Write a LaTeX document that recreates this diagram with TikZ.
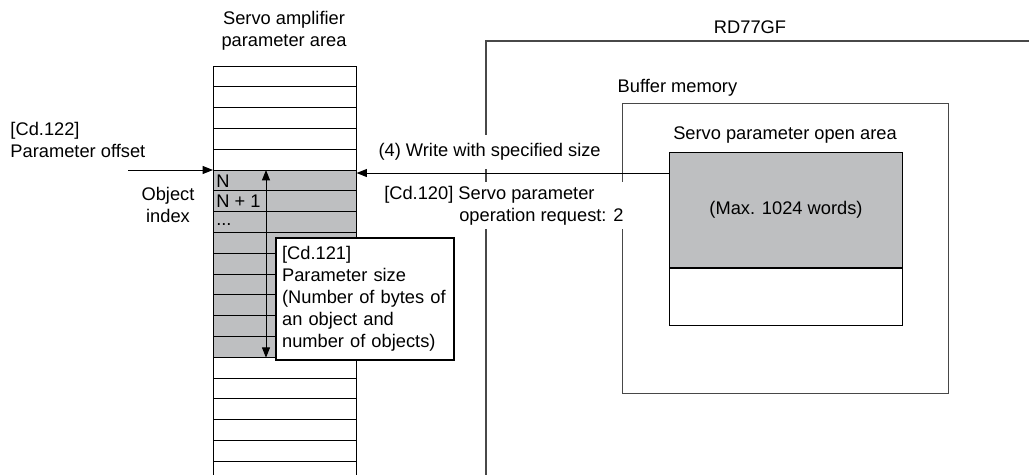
\documentclass[tikz,border=0pt]{standalone}
\usepackage{fontspec}
\setmainfont{Liberation Sans}
\usetikzlibrary{arrows.meta,positioning}
\definecolor{cellgray}{RGB}{190,191,193}
\definecolor{linegray}{RGB}{72,72,72}

\begin{document}
\begin{tikzpicture}[font=\fontsize{13pt}{15.6pt}\selectfont,
    t/.style={inner sep=1pt,align=center},
    n/.style={inner sep=0pt,anchor=west},
    a/.style={-{Triangle[length=.26cm,width=.2cm]},line width=.7pt},
    d/.style={{Triangle[length=.26cm,width=.2cm]}-{Triangle[length=.26cm,width=.2cm]},
      line width=.7pt},
    b/.style={draw=linegray,line width=.9pt},
    c/.style={line width=.7pt}]
  \useasboundingbox (0,0) rectangle (25.725,-11.85);
  % RD77GF and its buffer memory
  \draw[b] (26,-1.025) -- (12.15,-1.025) -- (12.15,-12.2);
  \node[t] (rd) at (18.75,-0.675) {RD77GF};
  \node[b,anchor=north west,inner sep=0,minimum width=8.15cm,
    minimum height=7.25cm] (buf) at (15.55,-2.575) {};
  \node[t,anchor=south west] (buflbl) at (15.4,-2.45) {Buffer memory};
  \node[draw,c,fill=cellgray,anchor=north west,inner sep=0,
    minimum width=5.825cm,minimum height=2.875cm] (open) at (16.725,-3.8)
    {(Max. 1024 words)};
  \node[draw,c,anchor=north,inner sep=0,minimum width=5.825cm,
    minimum height=1.425cm] (rest) at (open.south) {};
  \node[t] (openlbl) at (19.625,-3.375) {Servo parameter open area};
  % servo amplifier parameter area
  \node[t] (amp) at (7.1,-0.775) {Servo amplifier\\parameter area};
  \node[fill=cellgray,anchor=north west,inner sep=0,minimum width=3.575cm,
    minimum height=4.68cm] (obj) at (5.325,-4.25) {};
  \foreach \i in {0,...,19}
    \draw[c] (5.325,{-1.65-0.52*\i}) -- ++(3.575,0);
  \draw[c] (5.325,-1.65) -- (5.325,-12.2) (8.9,-1.65) -- (8.9,-12.2);
  \node[n] (n0) at (5.4,-4.52) {N};
  \node[n] (n1) at (5.4,-5.04) {N + 1};
  \node[n] (n2) at (5.4,-5.62) {...};
  \draw[d] (obj.north -| 6.65,0) -- (obj.south -| 6.65,0);
  \node[draw,line width=1.6pt,fill=white,align=left,anchor=north west,
    text width=4.15cm,inner xsep=.15cm,minimum height=3.05cm] (size)
    at (6.875,-5.925)
    {[Cd.121]\\Parameter size\\(Number of bytes of\\an object and\\number of objects)};
  % offset and index
  \node[t,align=left,anchor=west] (off) at (0.22,-3.5) {[Cd.122]\\Parameter offset};
  \coordinate (offin) at (3.2,-4.25);
  \draw[a] (offin) -- (obj.north west);
  \node[t] (idx) at (4.2,-5.125) {Object\\index};
  % write request
  \node[t,fill=white,inner ysep=.2cm] (wr) at (12.24,-3.8)
    {(4) Write with specified size};
  \node[t,fill=white,align=left,anchor=north west,inner sep=.1cm] (req)
    at (9.5,-4.55)
    {[Cd.120] Servo parameter\\\hspace*{1.875cm}operation request: 2};
  \coordinate (src) at (16.725,-4.325);
  \draw[a] (src) -- (src -| obj.east);
\end{tikzpicture}
\end{document}
